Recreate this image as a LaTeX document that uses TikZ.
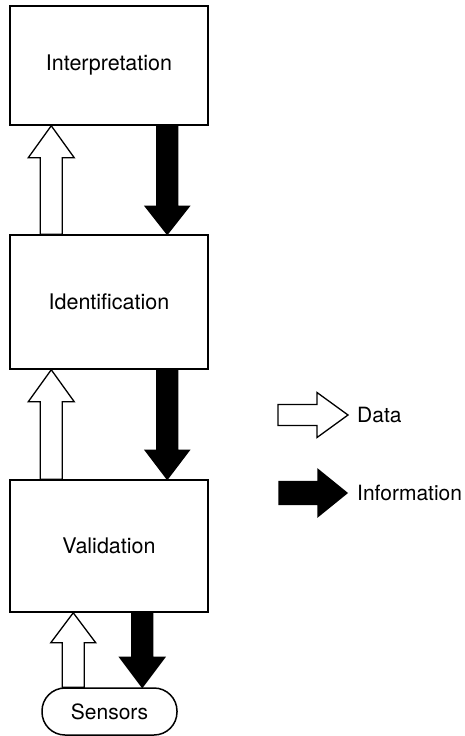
\documentclass[tikz,border=0pt]{standalone}
\usepackage{fontspec}
\setmainfont{TeX Gyre Heros}
\usetikzlibrary{calc}
\tikzset{
  box/.style={draw, line width=1.5pt, minimum width=198pt, inner sep=0pt, font=\fontsize{21.5}{25}\selectfont},
  datafill/.style={draw, line width=1.3pt, fill=white, line join=miter},
  infofill/.style={draw, line width=1.3pt, fill=black, line join=miter},
  lbl/.style={inner sep=0pt, anchor=west, font=\fontsize{21}{25}\selectfont}
}
% #1 style, #2 from, #3 to, #4 shaft half width, #5 head half width, #6 head length
\newcommand\blockarrow[6]{%
  \coordinate (ba-s) at #2;
  \coordinate (ba-e) at #3;
  \coordinate (ba-h) at ($(ba-e)!#6!(ba-s)$);
  \draw[#1] ($(ba-s)!#4!90:(ba-e)$) -- ($(ba-h)!#4!-90:(ba-s)$) -- ($(ba-h)!#5!-90:(ba-s)$) -- (ba-e) -- ($(ba-h)!#5!90:(ba-s)$) -- ($(ba-h)!#4!90:(ba-s)$) -- ($(ba-s)!#4!-90:(ba-e)$) -- cycle;}
\begin{document}
\begin{tikzpicture}[x=1pt,y=-1pt]
\useasboundingbox (0,0) rectangle (464,736);
\node[box, minimum height=119pt] (interp) at (109,65.5) {Interpretation};
\node[box, minimum height=134pt] (ident) at (109,302) {Identification};
\node[box, minimum height=132pt] (valid) at (109,546) {Validation};
\node[draw, line width=1.5pt, rounded corners=23pt, minimum width=135pt, minimum height=47pt, inner sep=0pt, font=\fontsize{21}{25}\selectfont] (sens) at (109.5,711.5) {Sensors};
% anchor points
\coordinate (vd) at ($(valid.south west)+(64,0)$);
\coordinate (vi) at ($(valid.south west)+(133,0)$);
% vertical arrows
\blockarrow{datafill}{($(ident.north west)+(42,0)$)}{($(interp.south west)+(42,0)$)}{11pt}{23pt}{32pt}
\blockarrow{infofill}{($(interp.south west)+(158,0)$)}{($(ident.north west)+(158,0)$)}{10.5pt}{22pt}{28pt}
\blockarrow{datafill}{($(valid.north west)+(42,0)$)}{($(ident.south west)+(42,0)$)}{11pt}{23pt}{32pt}
\blockarrow{infofill}{($(ident.south west)+(158,0)$)}{($(valid.north west)+(158,0)$)}{10.5pt}{22pt}{29pt}
\blockarrow{datafill}{(vd |- sens.north)}{(vd)}{11pt}{22.5pt}{30pt}
\blockarrow{infofill}{(vi)}{(vi |- sens.north)}{10.5pt}{22.5pt}{30pt}
% legend
\node[lbl] (datalbl) at (357,415) {Data};
\node[lbl] (infolbl) at (357,493) {Information};
\blockarrow{datafill}{($(datalbl.west)+(-79,0)$)}{($(datalbl.west)+(-9,0)$)}{10.5pt}{22.5pt}{31pt}
\blockarrow{infofill}{($(infolbl.west)+(-78,0)$)}{($(infolbl.west)+(-10,0)$)}{11.5pt}{23.5pt}{29pt}
\end{tikzpicture}
\end{document}
